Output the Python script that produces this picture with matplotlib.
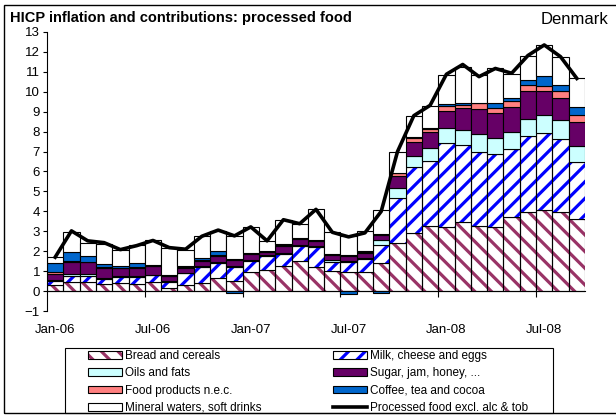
#!/usr/bin/env python

"""
HICP processed food inflation, Denmark: stacked contributions + headline line
"""

import numpy as np
import matplotlib
matplotlib.use("Agg")
import matplotlib.pyplot as plt
import matplotlib.patches as mpatches
import matplotlib.lines as mlines

plt.rcParams['font.family'] = ['Liberation Sans', 'DejaVu Sans']
plt.rcParams['hatch.linewidth'] = 2.3

# monthly, Jan-06 .. Sep-08
tick_pos = [0, 6, 12, 18, 24, 30]
tick_labels = ['Jan-06', 'Jul-06', 'Jan-07', 'Jul-07', 'Jan-08', 'Jul-08']

bread = [0.30, 0.48, 0.45, 0.37, 0.40, 0.37, 0.44, 0.17, 0.30, 0.43, 0.68, 0.50, 0.98, 1.05, 1.27, 1.52, 1.20,
         1.02, 0.94, 0.94, 1.39, 2.40, 2.90, 3.27, 3.20, 3.45, 3.27, 3.20, 3.74, 3.95, 4.07, 3.95, 3.62]
milk = [0.22, 0.29, 0.33, 0.23, 0.32, 0.35, 0.36, 0.27, 0.59, 0.77, 0.74, 0.70, 0.52, 0.71, 0.61, 0.74, 1.00,
        0.45, 0.50, 0.65, 0.91, 2.29, 3.31, 3.28, 4.22, 3.89, 3.70, 3.67, 3.40, 3.85, 3.85, 3.69, 2.88]
oils = [0.04, 0.10, 0.06, 0.04, 0.03, 0.03, 0.02, 0.08, 0.04, 0.05, 0.06, 0.05, 0.05, 0.04, 0.04, 0.04, 0.05,
        0.08, 0.06, 0.06, 0.26, 0.47, 0.59, 0.65, 0.75, 0.76, 0.90, 0.83, 0.86, 0.84, 0.92, 0.95, 0.79]
sugar = [0.29, 0.60, 0.60, 0.51, 0.39, 0.42, 0.43, 0.23, 0.25, 0.25, 0.29, 0.33, 0.30, 0.15, 0.36, 0.30, 0.25,
         0.25, 0.28, 0.28, 0.25, 0.59, 0.70, 0.80, 0.88, 1.10, 1.28, 1.23, 1.26, 1.41, 1.21, 1.09, 1.19]
food_nec = [0.12, 0.05, 0.02, 0.07, 0.04, 0.03, 0.03, 0.02, 0.02, 0.05, 0.05, 0.02, 0.05, 0.03, 0.04, 0.04, 0.04,
            0.04, 0.04, 0.04, 0.05, 0.16, 0.20, 0.15, 0.23, 0.15, 0.28, 0.25, 0.29, 0.30, 0.22, 0.34, 0.36]
coffee = [0.45, 0.46, 0.32, 0.15, 0.10, 0.20, 0.05, 0.03, 0.08, 0.11, 0.18, -0.08, 0.02, 0.02, 0.02, 0.02, 0.02,
          0.02, -0.15, 0.02, -0.08, 0.02, 0.04, 0.03, 0.12, 0.08, 0.02, 0.25, 0.13, 0.25, 0.50, 0.33, 0.42]
water = [0.30, 1.00, 0.64, 0.99, 0.78, 0.91, 1.22, 1.38, 0.78, 1.12, 1.02, 1.18, 1.31, 0.50, 1.23, 0.69, 1.54,
         1.12, 0.96, 1.04, 1.21, 1.04, 1.06, 1.12, 1.45, 1.82, 1.40, 1.76, 1.21, 1.18, 1.59, 1.38, 1.43]
total = [1.70, 3.02, 2.52, 2.43, 2.08, 2.28, 2.54, 2.18, 2.10, 2.75, 3.06, 2.77, 3.22, 2.52, 3.58, 3.38, 4.10,
         2.95, 2.72, 2.92, 4.00, 7.00, 8.80, 9.32, 10.88, 11.37, 10.76, 11.17, 10.93, 11.82, 12.35, 11.76, 10.67]

# (values, label, face, hatch, hatch colour)
series = [
    (bread, 'Bread and cereals', 'white', '\\\\', '#993366'),
    (milk, 'Milk, cheese and eggs', 'white', '//', '#0000FF'),
    (oils, 'Oils and fats', '#CCFFFF', None, None),
    (sugar, 'Sugar, jam, honey, ...', '#660066', None, None),
    (food_nec, 'Food products n.e.c.', '#FF8080', None, None),
    (coffee, 'Coffee, tea and cocoa', '#0066CC', None, None),
    (water, 'Mineral waters, soft drinks', 'white', None, None),
]

W, H = 616, 415
fig = plt.figure(figsize=(W / 100, H / 100), dpi=100)
ax = fig.add_axes([47 / W, 1 - 311 / H, 538 / W, 279 / H])

x = np.arange(len(total))
pos_base = np.zeros(len(x))
neg_base = np.zeros(len(x))
handles = {}
for vals, label, face, hatch, hcol in series:
    v = np.array(vals)
    bottom = np.where(v >= 0, pos_base, neg_base)
    if hatch:
        ax.bar(x, v, 1.0, bottom=bottom, color='white', edgecolor=hcol, hatch=hatch, linewidth=0)
        ax.bar(x, v, 1.0, bottom=bottom, fill=False, edgecolor='black', linewidth=0.8)
        handles[label] = (mpatches.Patch(facecolor='white', edgecolor=hcol, hatch=hatch, linewidth=0),
                          mpatches.Patch(fill=False, edgecolor='black', linewidth=0.8))
    else:
        ax.bar(x, v, 1.0, bottom=bottom, color=face, edgecolor='black', linewidth=0.8)
        handles[label] = mpatches.Patch(facecolor=face, edgecolor='black', linewidth=0.8)
    pos_base += np.where(v >= 0, v, 0)
    neg_base += np.where(v < 0, v, 0)

ax.plot(x, total, color='black', lw=2.6, zorder=5)
line_label = 'Processed food excl. alc & tob'
handles[line_label] = mlines.Line2D([], [], color='black', lw=2.6)

ax.set_xlim(-0.5, len(x) - 0.5)
ax.set_ylim(-1, 13)
for s in ['top', 'right']:
    ax.spines[s].set_visible(False)
ax.spines['bottom'].set_position(('data', 0))
ax.spines['bottom'].set_linewidth(0.8)
ax.spines['left'].set_linewidth(0.8)

ax.set_yticks(range(-1, 14))
ax.tick_params(axis='y', direction='out', length=3, width=0.8, pad=2, labelsize=9.5)
ax.set_xticks(tick_pos, labels=tick_labels)
ax.set_xticks([p - 0.5 for p in tick_pos[1:]], minor=True)
ax.tick_params(axis='x', which='major', length=0, pad=24, labelsize=9.5)
ax.tick_params(axis='x', which='minor', length=4, width=0.8, direction='out')

fig.text(10 / W, 1 - 21.7 / H, 'HICP inflation and contributions: processed food',
         fontsize=10.5, fontweight='bold', va='baseline')
fig.text(608 / W, 1 - 24 / H, 'Denmark', fontsize=12, ha='right', va='baseline')

col1 = ['Bread and cereals', 'Oils and fats', 'Food products n.e.c.', 'Mineral waters, soft drinks']
col2 = ['Milk, cheese and eggs', 'Sugar, jam, honey, ...', 'Coffee, tea and cocoa', line_label]
for labels, xl in [(col1, 88), (col2, 333)]:
    fig.legend([handles[l] for l in labels], labels, loc='upper left',
               bbox_to_anchor=(xl / W, 1 - 350 / H), frameon=False, borderpad=0,
               borderaxespad=0, handlelength=2.9, handleheight=0.6, handletextpad=0.2,
               labelspacing=0.45, fontsize=8.5)

# legend box and outer frame
fig.add_artist(mpatches.Rectangle((65 / W, 1 - 413 / H), (553 - 65) / W, (413 - 348) / H,
                                  transform=fig.transFigure, fill=False, edgecolor='black', lw=0.8))
fig.add_artist(mpatches.Rectangle((4 / W, 1 - 413 / H), (625 - 4) / W, (413 - 5) / H,
                                  transform=fig.transFigure, fill=False, edgecolor='black', lw=1.0))

fig.savefig('out.png', dpi=100)
